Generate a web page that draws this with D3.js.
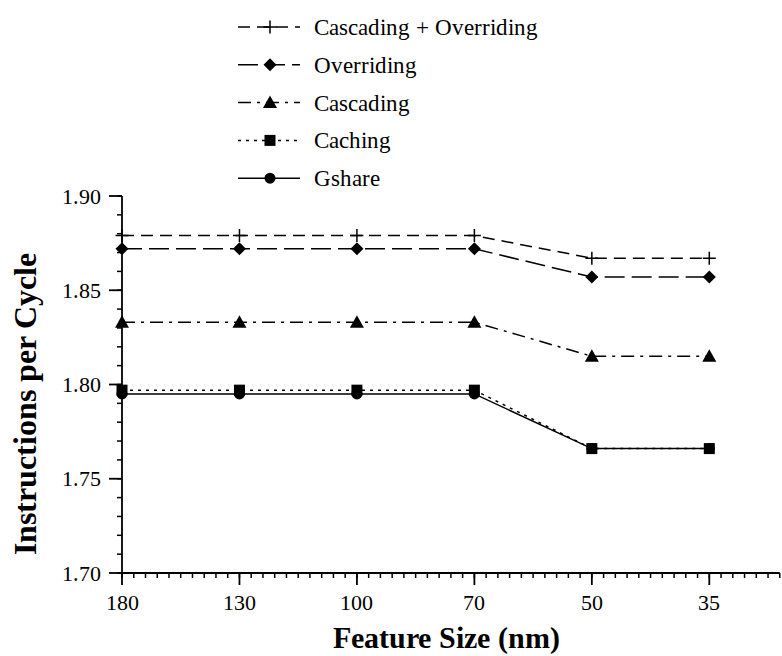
<!DOCTYPE html>
<html>
<head>
<meta charset="utf-8">
<script src="https://cdn.jsdelivr.net/npm/d3@7"></script>
<style>
  @font-face { font-family: "RefSerif"; font-weight: normal;
    src: local("Liberation Serif"), local("LiberationSerif"), local("Liberation Serif Regular"); }
  @font-face { font-family: "RefSerif"; font-weight: bold;
    src: local("Liberation Serif Bold"), local("LiberationSerif-Bold"); }
</style>
</head>
<body style="margin:0">
<script>
// feature sizes (nm), one category per column
var sizes = ["180", "130", "100", "70", "50", "35"];

var cascOver  = [1.879, 1.879, 1.879, 1.879, 1.867, 1.867];
var overriding = [1.872, 1.872, 1.872, 1.872, 1.857, 1.857];
var cascading = [1.833, 1.833, 1.833, 1.833, 1.815, 1.815];
var caching   = [1.797, 1.797, 1.797, 1.797, 1.766, 1.766];
var gshare    = [1.795, 1.795, 1.795, 1.795, 1.766, 1.766];

var yTicks = [1.70, 1.75, 1.80, 1.85, 1.90];

var seriesNames = ["Cascading + Overriding", "Overriding", "Cascading", "Caching", "Gshare"];

var W = 782, H = 656;
var serif = "RefSerif, 'Liberation Serif', 'Times New Roman', serif";

var svg = d3.select("body").append("svg")
    .attr("width", W)
    .attr("height", H);

var x = d3.scaleLinear().domain([0, 5.6]).range([122, 122 + 5.6 * 117.46]);
var y = d3.scaleLinear().domain([1.70, 1.90]).range([573, 196]);

// marker shapes, drawn round (0,0)
var shapes = {
  plus: "M-6.5,0H6.5M0,-6.5V6.5",
  diamond: "M0,-6.5L6.5,0L0,6.5L-6.5,0Z",
  triangle: "M0,-7L7,5.5H-7Z",
  square: "M-5.5,-5.5H5.5V5.5H-5.5Z",
  circle: d3.symbol(d3.symbolCircle, Math.PI * 5.5 * 5.5)()
};

var series = [
  { name: seriesNames[0], values: cascOver,   dash: "12,7",        marker: "plus" },
  { name: seriesNames[1], values: overriding, dash: "20,7",        marker: "diamond" },
  { name: seriesNames[2], values: cascading,  dash: "13,6,3,6",    marker: "triangle" },
  { name: seriesNames[3], values: caching,    dash: "3,5",         marker: "square" },
  { name: seriesNames[4], values: gshare,     dash: null,          marker: "circle" }
];

// y axis
var yAxis = svg.append("g").attr("transform", "translate(122,0)");
yAxis.append("line")
    .attr("x1", 0).attr("x2", 0)
    .attr("y1", y(1.90)).attr("y2", y(1.70))
    .attr("stroke", "#000").attr("stroke-width", 1.8);
yAxis.selectAll(".minor")
    .data(d3.range(1.70, 1.9001, 0.01))
  .enter().append("line")
    .attr("x1", -5).attr("x2", 0)
    .attr("y1", function(d) { return y(d); })
    .attr("y2", function(d) { return y(d); })
    .attr("stroke", "#000").attr("stroke-width", 1.5);
yAxis.selectAll(".major")
    .data(yTicks)
  .enter().append("line")
    .attr("x1", -13).attr("x2", 0)
    .attr("y1", function(d) { return y(d); })
    .attr("y2", function(d) { return y(d); })
    .attr("stroke", "#000").attr("stroke-width", 1.8);

// x axis
var xAxis = svg.append("g").attr("transform", "translate(0,573)");
xAxis.append("line")
    .attr("x1", x(0)).attr("x2", x(5.6))
    .attr("stroke", "#000").attr("stroke-width", 1.8);
xAxis.selectAll(".minor")
    .data(d3.range(0, 5.601, 0.1))
  .enter().append("line")
    .attr("x1", function(d) { return x(d); })
    .attr("x2", function(d) { return x(d); })
    .attr("y1", 0).attr("y2", 5)
    .attr("stroke", "#000").attr("stroke-width", 1.5);
xAxis.selectAll(".major")
    .data(sizes)
  .enter().append("line")
    .attr("x1", function(d, i) { return x(i); })
    .attr("x2", function(d, i) { return x(i); })
    .attr("y1", 0).attr("y2", 12)
    .attr("stroke", "#000").attr("stroke-width", 1.8);

// tick labels
svg.selectAll(".ylab")
    .data(yTicks)
  .enter().append("text")
    .attr("class", "ylab")
    .attr("x", 101)
    .attr("y", function(d) { return y(d) + 7.5; })
    .attr("text-anchor", "end")
    .style("font-family", serif)
    .style("font-size", "22px")
    .text(function(d) { return d.toFixed(2); });

svg.selectAll(".xlab")
    .data(sizes)
  .enter().append("text")
    .attr("class", "xlab")
    .attr("x", function(d, i) { return x(i); })
    .attr("y", 610)
    .attr("text-anchor", "middle")
    .style("font-family", serif)
    .style("font-size", "22px")
    .text(function(d) { return d; });

// axis titles
svg.append("text")
    .attr("x", 446).attr("y", 648)
    .attr("text-anchor", "middle")
    .style("font-family", serif)
    .style("font-size", "30px").style("font-weight", "bold")
    .text("Feature Size (nm)");
svg.append("text")
    .attr("transform", "translate(36,404) rotate(-90)")
    .attr("text-anchor", "middle")
    .style("font-family", serif)
    .style("font-size", "32px").style("font-weight", "bold")
    .text("Instructions per Cycle");

// lines + markers, drawn bottom series first
var line = d3.line()
    .x(function(d, i) { return x(i); })
    .y(function(d) { return y(d); });

series.slice().reverse().forEach(function(s) {
  svg.append("path")
      .datum(s.values)
      .attr("d", line)
      .attr("fill", "none")
      .attr("stroke", "#000")
      .attr("stroke-width", 1.5)
      .attr("stroke-dasharray", s.dash);
  svg.selectAll(null)
      .data(s.values)
    .enter().append("path")
      .attr("transform", function(d, i) { return "translate(" + x(i) + "," + y(d) + ")"; })
      .attr("d", shapes[s.marker])
      .attr("fill", "#000")
      .attr("stroke", "#000")
      .attr("stroke-width", s.marker == "plus" ? 1.5 : 0);
});

// legend
var rowY = function(i) { return 27 + i * 37.8; };
svg.selectAll(".legline")
    .data(series)
  .enter().append("line")
    .attr("x1", 238).attr("x2", 300)
    .attr("y1", function(d, i) { return rowY(i); })
    .attr("y2", function(d, i) { return rowY(i); })
    .attr("stroke", "#000").attr("stroke-width", 1.5)
    .attr("stroke-dasharray", function(d) { return d.dash; });
svg.selectAll(".legmark")
    .data(series)
  .enter().append("path")
    .attr("transform", function(d, i) { return "translate(270," + rowY(i) + ")"; })
    .attr("d", function(d) { return shapes[d.marker]; })
    .attr("fill", "#000")
    .attr("stroke", "#000")
    .attr("stroke-width", function(d) { return d.marker == "plus" ? 1.5 : 0; });
svg.selectAll(".legtext")
    .data(series)
  .enter().append("text")
    .attr("class", "legtext")
    .attr("x", 314)
    .attr("y", function(d, i) { return rowY(i) + 8; })
    .style("font-family", serif)
    .style("font-size", "23px")
    .text(function(d) { return d.name; });
</script>
</body>
</html>
